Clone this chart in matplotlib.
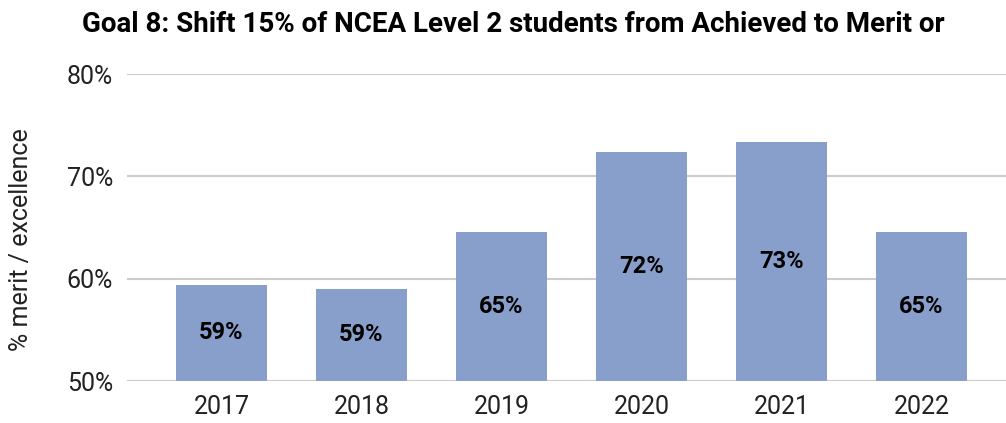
import matplotlib.pyplot as plt

# data
years = ['2017', '2018', '2019', '2020', '2021', '2022']
merit_excellence = [59.4, 59.0, 64.6, 72.4, 73.4, 64.6]
y_ticks = [50, 60, 70, 80]

plt.rcParams['font.family'] = ['Roboto', 'DejaVu Sans']

fig = plt.figure(figsize=(10.06, 4.23), dpi=100)
ax = fig.add_axes([127 / 1006, 1 - 381 / 423, 1 - 127 / 1006, (381 - 74) / 423])

x = range(len(years))
bars = ax.bar(x, [v - 50 for v in merit_excellence], bottom=50, width=0.65,
              color='#889fcb', zorder=2)

# value labels in the middle of each bar
for bar, val in zip(bars, merit_excellence):
    ax.text(bar.get_x() + bar.get_width() / 2, (50 + val) / 2, f'{round(val)}%',
            ha='center', va='center', fontsize=17, fontweight='bold', color='black')

ax.set_ylim(50, 80)
ax.set_xlim(-0.675, -0.675 + (1006 - 127) / 140)
ax.set_yticks(y_ticks)
ax.set_yticklabels([f'{t}%' for t in y_ticks])
ax.set_xticks(list(x))
ax.set_xticklabels(years)
ax.tick_params(axis='both', length=0, labelsize=18, colors='#222222')
ax.tick_params(axis='y', pad=10)
ax.tick_params(axis='x', pad=10)
ax.grid(axis='y', color='#cccccc', linewidth=1.5, zorder=0)
for s in ax.spines.values():
    s.set_visible(False)

ax.set_ylabel('% merit / excellence', fontsize=18, color='#222222')
ax.yaxis.set_label_coords((33 - 127) / 879, (381 - 240) / 307)

fig.text(513 / 1006, 1 - 25 / 423, 'Goal 8: Shift 15% of NCEA Level 2 students from Achieved to Merit or',
         ha='center', va='center', fontsize=20, fontweight='bold', color='black')

fig.savefig('out.png', dpi=100)
